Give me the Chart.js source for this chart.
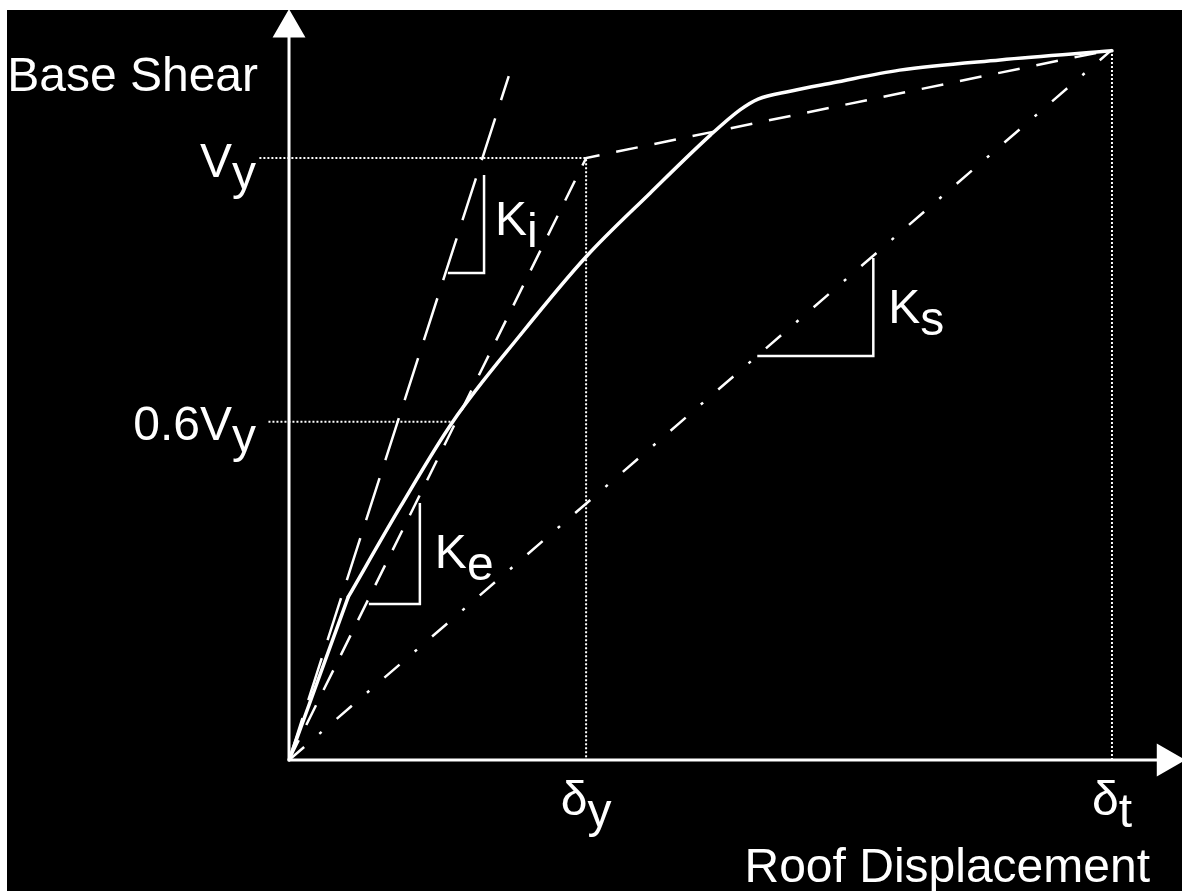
<!DOCTYPE html>
<html>
<head>
<meta charset="utf-8">
<title>Pushover curve</title>
<script src="https://cdn.jsdelivr.net/npm/chart.js@4.4.1/dist/chart.umd.min.js"></script>
<style>
  html, body { margin: 0; padding: 0; background: #fff; }
  #wrap { width: 1182px; height: 891px; }
</style>
</head>
<body>
<div id="wrap"><canvas id="pushoverChart" width="1182" height="891"></canvas></div>
<script>
// Units: roof displacement with delta_t = 100, base shear with Vy = 100

// Capacity (pushover) curve
const curveX = [0, 7.2, 13.5, 19.9, 28.1, 36.1, 43.9, 51.2, 54.8, 57.0, 60.9, 66.1, 74.2, 86.4, 100];
const curveY = [0, 27.1, 42.0, 56.2, 70.6, 83.6, 94.2, 103.8, 108.0, 109.8, 111.1, 112.5, 114.6, 116.3, 117.8];

// Idealised bilinear curve (Ke branch, then post-yield branch)
const bilinearX = [0, 36.1, 100];
const bilinearY = [0, 100, 118];

// Initial stiffness Ki and secant stiffness Ks
const kiX = [0, 26.7];
const kiY = [0, 113.6];
const ksX = [0, 100];
const ksY = [0, 118];

// Slope triangles
const kiTriX = [19.3, 23.7, 23.7];
const kiTriY = [80.9, 80.9, 97.2];
const keTriX = [9.7, 15.9, 15.9];
const keTriY = [25.9, 25.9, 42.7];
const ksTriX = [56.9, 71.0, 71.0];
const ksTriY = [67.1, 67.1, 83.4];

// Reference levels
const yieldShear = 100;
const shear60 = 56.2;
const yieldDisp = 36.1;
const targetDisp = 100;
const peakShear = 118;

// Axis lines (end where the arrow heads sit)
const xAxisX = [0, 106.6];
const xAxisY = [0, 0];
const yAxisX = [0, 0];
const yAxisY = [0, 121.6];

// Tick labels: [main, subscript]
const shearLabels = [["V", "y"], ["0.6V", "y"]];
const dispLabels = [["\u03B4", "y"], ["\u03B4", "t"]];
const stiffLabels = [["K", "i"], ["K", "e"], ["K", "s"]];

const FONT = '48px "Liberation Sans", Arial, sans-serif';
const WHITE = "#ffffff";

function pts(xs, ys) {
  return xs.map((x, i) => ({ x: x, y: ys[i] }));
}

function lineSet(xs, ys, width, dash) {
  return {
    data: pts(xs, ys),
    showLine: true,
    borderColor: WHITE,
    backgroundColor: WHITE,
    borderWidth: width,
    borderDash: dash || [],
    pointRadius: 0,
    tension: 0,
  };
}

// Draw text with a subscript dropped below the baseline
function drawSub(ctx, main, sub, x, y, align) {
  const w1 = ctx.measureText(main).width;
  const w2 = ctx.measureText(sub).width;
  let start = x;
  if (align === "right") start = x - w1 - w2;
  if (align === "center") start = x - (w1 + w2) / 2;
  ctx.fillText(main, start, y);
  ctx.fillText(sub, start + w1, y + 12);
}

const backgroundPlugin = {
  id: "background",
  beforeDraw(chart) {
    const ctx = chart.ctx;
    ctx.save();
    ctx.fillStyle = "#ffffff";
    ctx.fillRect(0, 0, chart.width, chart.height);
    ctx.fillStyle = "#000000";
    ctx.fillRect(7, 10, chart.width - 7, chart.height - 10);
    ctx.restore();
  },
};

const labelPlugin = {
  id: "labels",
  afterDatasetsDraw(chart) {
    const ctx = chart.ctx;
    const sx = chart.scales.x;
    const sy = chart.scales.y;
    const ox = sx.getPixelForValue(0);
    const oy = sy.getPixelForValue(0);
    ctx.save();
    ctx.font = FONT;
    ctx.fillStyle = WHITE;
    ctx.textBaseline = "alphabetic";

    // Axis titles
    ctx.textAlign = "left";
    const bs = "Base Shear";
    ctx.fillText(bs, ox - 31 - ctx.measureText(bs).width, oy - 669);
    const rd = "Roof Displacement";
    ctx.fillText(rd, ox + 861 - ctx.measureText(rd).width, oy + 122);

    // Shear levels
    drawSub(ctx, shearLabels[0][0], shearLabels[0][1], ox - 33, sy.getPixelForValue(yieldShear) + 19, "right");
    drawSub(ctx, shearLabels[1][0], shearLabels[1][1], ox - 33, sy.getPixelForValue(shear60) + 18, "right");

    // Displacement levels
    drawSub(ctx, dispLabels[0][0], dispLabels[0][1], sx.getPixelForValue(yieldDisp), oy + 55, "center");
    drawSub(ctx, dispLabels[1][0], dispLabels[1][1], sx.getPixelForValue(targetDisp), oy + 55, "center");

    // Stiffness labels next to their triangles
    drawSub(ctx, stiffLabels[0][0], stiffLabels[0][1], sx.getPixelForValue(kiTriX[1]) + 11, sy.getPixelForValue(kiTriY[1]) - 38, "left");
    drawSub(ctx, stiffLabels[1][0], stiffLabels[1][1], sx.getPixelForValue(keTriX[1]) + 15, sy.getPixelForValue(keTriY[1]) - 36, "left");
    drawSub(ctx, stiffLabels[2][0], stiffLabels[2][1], sx.getPixelForValue(ksTriX[1]) + 15, sy.getPixelForValue(ksTriY[1]) - 33, "left");
    ctx.restore();
  },
};

function initChart() {
  const ctx = document.getElementById("pushoverChart").getContext("2d");

  // straight initial branch up to the first kink, smooth afterwards
  const curveStart = lineSet(curveX.slice(0, 2), curveY.slice(0, 2), 3.5);
  const curveRest = lineSet(curveX.slice(1), curveY.slice(1), 3.5);
  curveRest.cubicInterpolationMode = "monotone";
  curveRest.borderCapStyle = "round";
  curveStart.borderCapStyle = "round";

  const xAxis = lineSet(xAxisX, xAxisY, 3);
  xAxis.pointRadius = [0, 16];
  xAxis.pointStyle = "triangle";
  xAxis.pointRotation = 90;
  xAxis.pointBorderColor = WHITE;
  xAxis.pointBackgroundColor = WHITE;

  const yAxis = lineSet(yAxisX, yAxisY, 3);
  yAxis.pointRadius = [0, 16];
  yAxis.pointStyle = "triangle";
  yAxis.pointRotation = 0;
  yAxis.pointBorderColor = WHITE;
  yAxis.pointBackgroundColor = WHITE;

  const dotted = [2, 2];

  new Chart(ctx, {
    type: "scatter",
    data: {
      datasets: [
        curveStart,
        curveRest,
        lineSet(bilinearX, bilinearY, 2.5, [22, 17]),
        lineSet(kiX, kiY, 2.5, [44, 19]),
        lineSet(ksX, ksY, 2.5, [20, 20, 3, 20]),
        lineSet(kiTriX, kiTriY, 2.5),
        lineSet(keTriX, keTriY, 2.5),
        lineSet(ksTriX, ksTriY, 2.5),
        lineSet([-3.6, yieldDisp, yieldDisp], [yieldShear, yieldShear, 0], 2, dotted),
        lineSet([-2.5, curveX[3]], [shear60, shear60], 2, dotted),
        lineSet([targetDisp, targetDisp], [0, peakShear], 2, dotted),
        xAxis,
        yAxis,
      ],
    },
    plugins: [backgroundPlugin, labelPlugin],
    options: {
      responsive: false,
      animation: false,
      events: [],
      layout: { padding: 0, autoPadding: false },
      plugins: {
        legend: { display: false },
        tooltip: { enabled: false },
      },
      scales: {
        x: { type: "linear", min: -35.12, max: 108.51, display: false },
        y: { type: "linear", min: -21.76, max: 126.25, display: false },
      },
    },
  });
}

document.addEventListener("DOMContentLoaded", () => {
  initChart();
});
</script>
</body>
</html>
